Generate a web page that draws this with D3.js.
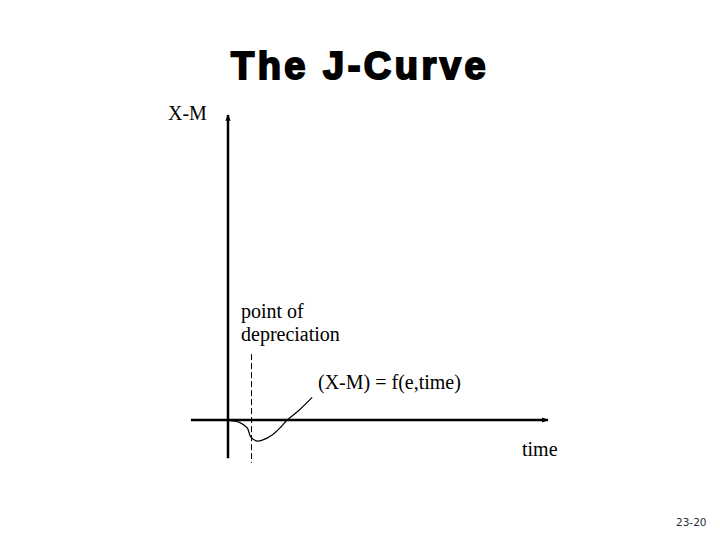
<!DOCTYPE html>
<html>
<head>
<meta charset="utf-8">
<script src="https://cdn.jsdelivr.net/npm/d3@7"></script>
<style>
  body { margin: 0; background: #fff; }
  svg { display: block; }
</style>
</head>
<body>
<div id="chart"></div>
<script>
// J-curve shape: time vs (X-M)
const curveTime = [0, 0.85, 3.4, 6.0, 7.1, 9.1, 10.7, 13.8, 16.6, 18.5, 22.3, 26.3];
const curveXM   = [0, -0.2, -0.7, -2.6, -5.5, -6.9, -6.6, -4.9, -2.2, 0, 3.3, 7.4];
const depreciationTime = 7.35;
const timeExtent = [-11.6, 100];
const xmExtent = [-12.5, 100];

const width = 720, height = 540;
const svg = d3.select("#chart").append("svg")
  .attr("width", width).attr("height", height);

const x = d3.scaleLinear().domain([0, 100]).range([228, 548]);
const y = d3.scaleLinear().domain([0, 100]).range([420, 115]);

const defs = svg.append("defs");
defs.append("marker")
  .attr("id", "arr")
  .attr("viewBox", "0 0 10 10")
  .attr("refX", 9).attr("refY", 5)
  .attr("markerWidth", 2.6).attr("markerHeight", 2.6)
  .attr("orient", "auto")
  .append("path").attr("d", "M0,1 L10,5 L0,9 Z").attr("fill", "#000");

// title
svg.append("text")
  .attr("x", 360).attr("y", 79)
  .attr("text-anchor", "middle")
  .style("font-family", "Liberation Sans, Arial, sans-serif")
  .style("font-weight", "bold")
  .style("font-size", "38px")
  .style("letter-spacing", "3.5px")
  .attr("stroke", "#000").attr("stroke-width", 2)
  .text("The J-Curve");

// axes
svg.append("line")
  .attr("x1", x(0)).attr("x2", x(0))
  .attr("y1", y(xmExtent[0])).attr("y2", y(xmExtent[1]))
  .attr("stroke", "#000").attr("stroke-width", 2.5)
  .attr("marker-end", "url(#arr)");
svg.append("line")
  .attr("x1", x(timeExtent[0])).attr("x2", x(timeExtent[1]))
  .attr("y1", y(0)).attr("y2", y(0))
  .attr("stroke", "#000").attr("stroke-width", 2.5)
  .attr("marker-end", "url(#arr)");

// point of depreciation
svg.append("line")
  .attr("x1", x(depreciationTime)).attr("x2", x(depreciationTime))
  .attr("y1", y(21.6)).attr("y2", y(-14.1))
  .attr("stroke", "#000").attr("stroke-width", 1)
  .attr("stroke-dasharray", "6,3");

// curve
const pts = curveTime.map((t, i) => [t, curveXM[i]]);
svg.append("path")
  .datum(pts)
  .attr("fill", "none").attr("stroke", "#000").attr("stroke-width", 1.2)
  .attr("d", d3.line().x(d => x(d[0])).y(d => y(d[1])).curve(d3.curveCatmullRom.alpha(0.5)));

// labels
const serif = "Liberation Serif, Times New Roman, serif";
const lab = (tx, ty, s) => svg.append("text")
  .attr("x", tx).attr("y", ty)
  .style("font-family", serif).style("font-size", "20px")
  .text(s);
lab(168, 120, "X-M");
lab(241, 318, "point of");
lab(241, 341, "depreciation");
lab(318, 389, "(X-M) = f(e,time)");
lab(522, 456, "time");

svg.append("text")
  .attr("x", 676).attr("y", 526)
  .style("font-family", "DejaVu Sans, Verdana, sans-serif")
  .style("font-size", "10.5px")
  .attr("fill", "#1f2a44")
  .text("23-20");
</script>
</body>
</html>
